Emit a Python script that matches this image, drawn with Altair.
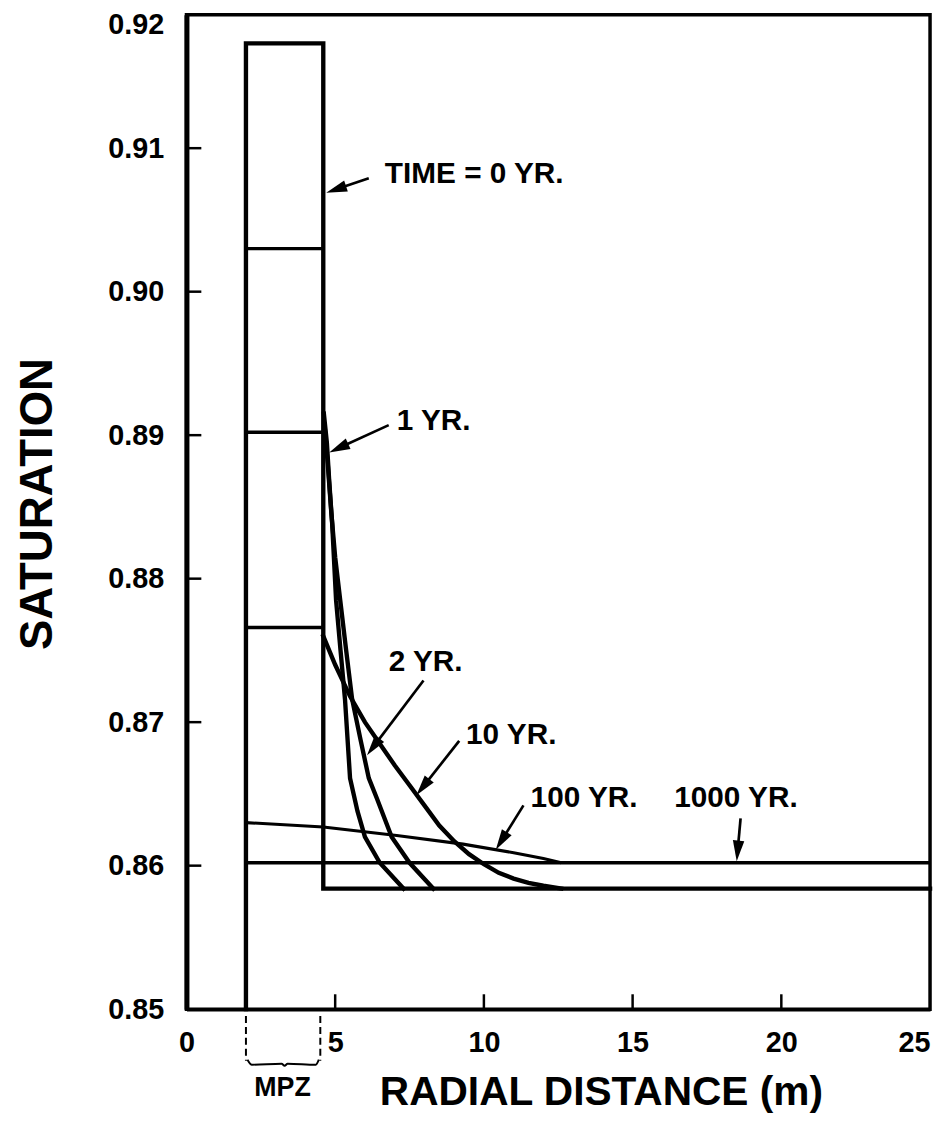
import math
import altair as alt
import pandas as pd

# ---------------- scale set-up ----------------
X_MIN, X_MAX = 0.0, 25.0
Y_MIN, Y_MAX = 0.85, 0.9193
W, H = 750, 1003
PX_X = W / (X_MAX - X_MIN)
PX_Y = H / (Y_MAX - Y_MIN)

FONT = "Liberation Sans"

# ---------------- data ----------------
# time = 0 profile (step)
t0_x = [2.0, 2.0, 4.6, 4.6, 25.0]
t0_s = [0.85, 0.9173, 0.9173, 0.8584, 0.8584]

# saturation inside the MPZ (2.0 - 4.6 m)
mpz_x = [2.0, 4.6]
mpz_levels = {"1 yr": 0.9030, "2 yr": 0.8902, "10 yr": 0.8766}

# profiles outside the MPZ
yr1_x = [4.62, 4.72, 4.80, 4.90, 5.03, 5.18, 5.33, 5.50, 5.75, 6.00, 6.50, 7.30]
yr1_s = [0.8915, 0.8895, 0.8868, 0.8838, 0.8785, 0.8750, 0.8716, 0.8661, 0.8638, 0.8620, 0.8602, 0.8584]

yr2_x = [4.65, 4.75, 4.87, 5.00, 5.17, 5.37, 5.57, 5.85, 6.13, 6.40, 6.90, 7.50, 8.30]
yr2_s = [0.8905, 0.8880, 0.8846, 0.8815, 0.8785, 0.8750, 0.8716, 0.8688, 0.8661, 0.8647, 0.8620, 0.8602, 0.8584]

yr10_x = [4.6, 5.0, 5.5, 6.0, 6.5, 7.0, 7.5, 8.0, 8.5, 9.0, 9.5, 10.0, 10.5, 11.0, 11.5, 12.0, 12.6]
yr10_s = [0.8760, 0.8740, 0.8718, 0.8700, 0.8685, 0.8670, 0.8656, 0.8642, 0.8628, 0.8617, 0.8608,
          0.8601, 0.8595, 0.8591, 0.8588, 0.8586, 0.8584]

yr100_x = [2.0, 4.6, 7.07, 9.3, 11.0, 12.0, 12.6]
yr100_s = [0.8630, 0.8627, 0.8621, 0.8615, 0.8609, 0.8605, 0.8602]

yr1000_x = [2.0, 25.0]
yr1000_s = [0.8602, 0.8602]

# axis ticks
x_tick_values = [0, 5, 10, 15, 20, 25]
x_inner_ticks = [5, 10, 15, 20]
y_tick_values = [0.85, 0.86, 0.87, 0.88, 0.89, 0.90, 0.91, 0.91861]
y_inner_ticks = [0.86, 0.87, 0.88, 0.89, 0.90, 0.91]

# annotations: label, text x, text y, arrow start x, y, arrow tip x, y
ann_label = ["TIME = 0 YR.", "1 YR.", "2 YR.", "10 YR.", "100 YR.", "1000 YR."]
ann_tx = [6.67, 7.07, 6.80, 9.40, 11.57, 16.40]
ann_ty = [0.9082, 0.8910, 0.8742, 0.8691, 0.8647, 0.8647]
ann_sx = [6.13, 6.80, 7.97, 9.17, 11.33, 18.63]
ann_sy = [0.9079, 0.8907, 0.8729, 0.8687, 0.8642, 0.8633]
ann_px = [4.70, 4.80, 6.07, 7.73, 10.40, 18.50]
ann_py = [0.9069, 0.8888, 0.8677, 0.8649, 0.8611, 0.8603]

# MPZ marker below the axis
mpz_dash_x = [2.0, 4.5]
mpz_dash_s = [0.84952, 0.84641]
brace_x = [2.05, 2.2, 3.2, 3.3, 3.4, 4.35, 4.45]
brace_s = [0.84648, 0.84613, 0.84620, 0.84605, 0.84620, 0.84613, 0.84648]
mpz_label_x, mpz_label_s = 3.23, 0.84447

# ---------------- tables ----------------
rows = []
def add(seg, xs, ss):
    for i, (a, b) in enumerate(zip(xs, ss)):
        rows.append({"seg": seg, "i": i, "x": a, "s": b})

add("t0", t0_x, t0_s)
add("1 yr out", yr1_x, yr1_s)
add("2 yr out", yr2_x, yr2_s)
add("10 yr out", yr10_x, yr10_s)
lines_df = pd.DataFrame(rows)

rows = []
for k, v in mpz_levels.items():
    add(k + " mpz", mpz_x, [v, v])
add("1000 yr", yr1000_x, yr1000_s)
flat_df = pd.DataFrame(rows)

rows100 = []
for i, (a, b) in enumerate(zip(yr100_x, yr100_s)):
    rows100.append({"seg": "100 yr", "i": i, "x": a, "s": b})
line100_df = pd.DataFrame(rows100)

HEAD_HALF = 10.5
ann_rows = []
head_rows = []
for lab, tx, ty, sx, sy, px, py in zip(ann_label, ann_tx, ann_ty, ann_sx, ann_sy, ann_px, ann_py):
    dx = (px - sx) * PX_X
    dy = -(py - sy) * PX_Y
    L = math.hypot(dx, dy)
    ux, uy = dx / L, dy / L
    cx = px - ux * HEAD_HALF / PX_X
    cy = py + uy * HEAD_HALF / PX_Y
    ang = math.degrees(math.atan2(ux, -uy)) % 360
    ann_rows.append({"label": lab, "tx": tx, "ty": ty, "sx": sx, "sy": sy, "ex": cx, "ey": cy})
    head_rows.append({"x": cx, "s": cy, "angle": ang})
ann_df = pd.DataFrame(ann_rows)
head_df = pd.DataFrame(head_rows)

xt_df = pd.DataFrame({"x": x_inner_ticks, "s0": [Y_MIN] * 4, "s1": [Y_MIN + 15 / PX_Y] * 4})
yt_df = pd.DataFrame({"s": y_inner_ticks, "x0": [0.0] * 6, "x1": [15 / PX_X] * 6})
dash_df = pd.DataFrame({"x": mpz_dash_x, "s0": [mpz_dash_s[0]] * 2, "s1": [mpz_dash_s[1]] * 2})
brace_df = pd.DataFrame({"x": brace_x, "s": brace_s, "i": list(range(len(brace_x)))})
mpz_df = pd.DataFrame({"x": [mpz_label_x], "s": [mpz_label_s], "t": ["MPZ"]})

# ---------------- scales / axes ----------------
xscale = alt.Scale(domain=[X_MIN, X_MAX], nice=False, zero=False)
yscale = alt.Scale(domain=[Y_MIN, Y_MAX], nice=False, zero=False)

xaxis = alt.Axis(
    values=x_tick_values, ticks=False, grid=False, domain=True, domainColor="black",
    domainWidth=3.5, labelFont=FONT, labelFontSize=29, labelFontWeight="bold",
    labelColor="black", labelPadding=34, labelBaseline="middle", labelFlush=False,
    labelAlign={"condition": {"test": "datum.value == 25", "value": "right"}, "value": "center"},
    title="RADIAL DISTANCE (m)", titleFont=FONT, titleFontSize=41, titleFontWeight="bold",
    titleColor="black", titleX=418, titleY=84, titleBaseline="middle", titleAlign="center",
)
yaxis = alt.Axis(
    values=y_tick_values, ticks=False, grid=False, domain=True, domainColor="black",
    domainWidth=5, labelFont=FONT, labelFontSize=29, labelFontWeight="bold",
    labelColor="black", labelPadding=23, labelBaseline="middle", labelFlush=False,
    labelExpr="datum.value > 0.915 ? '0.92' : format(datum.value, '.2f')",
    title="SATURATION", titleFont=FONT, titleFontSize=46, titleFontWeight="bold",
    titleColor="black", titleAngle=270, titleX=-150, titleY=493,
    titleBaseline="middle", titleAlign="center",
)

X = alt.X("x:Q", scale=xscale, axis=xaxis)
Y = alt.Y("s:Q", scale=yscale, axis=yaxis)

curves = alt.Chart(lines_df).mark_line(
    color="black", strokeWidth=4.4, strokeJoin="miter", strokeCap="square"
).encode(x=X, y=Y, detail="seg:N", order="i:Q")

flats = alt.Chart(flat_df).mark_line(color="black", strokeWidth=3.5).encode(
    x=alt.X("x:Q", scale=xscale), y=alt.Y("s:Q", scale=yscale), detail="seg:N", order="i:Q"
)

line100 = alt.Chart(line100_df).mark_line(color="black", strokeWidth=3.1).encode(
    x=alt.X("x:Q", scale=xscale), y=alt.Y("s:Q", scale=yscale), detail="seg:N", order="i:Q"
)

xticks = alt.Chart(xt_df).mark_rule(color="black", strokeWidth=2.5).encode(
    x=alt.X("x:Q", scale=xscale), y=alt.Y("s0:Q", scale=yscale), y2="s1:Q"
)
yticks = alt.Chart(yt_df).mark_rule(color="black", strokeWidth=2.5).encode(
    y=alt.Y("s:Q", scale=yscale), x=alt.X("x0:Q", scale=xscale), x2="x1:Q"
)

shafts = alt.Chart(ann_df).mark_rule(color="black", strokeWidth=2.7).encode(
    x=alt.X("sx:Q", scale=xscale), y=alt.Y("sy:Q", scale=yscale), x2="ex:Q", y2="ey:Q"
)
heads = alt.Chart(head_df).mark_point(
    shape="M0,-1L0.55,1L-0.55,1Z", filled=True, color="black", opacity=1, size=441, strokeWidth=0
).encode(x=alt.X("x:Q", scale=xscale), y=alt.Y("s:Q", scale=yscale), angle=alt.Angle("angle:Q", scale=None))

labels = alt.Chart(ann_df).mark_text(
    font=FONT, fontSize=30, fontWeight="bold", color="black", align="left", baseline="middle"
).encode(x=alt.X("tx:Q", scale=xscale), y=alt.Y("ty:Q", scale=yscale), text="label:N")

dashes = alt.Chart(dash_df).mark_rule(color="black", strokeWidth=2, strokeDash=[7, 4]).encode(
    x=alt.X("x:Q", scale=xscale), y=alt.Y("s0:Q", scale=yscale), y2="s1:Q"
)
brace = alt.Chart(brace_df).mark_line(color="black", strokeWidth=2, interpolate="monotone").encode(
    x=alt.X("x:Q", scale=xscale), y=alt.Y("s:Q", scale=yscale), order="i:Q"
)
mpz_text = alt.Chart(mpz_df).mark_text(
    font=FONT, fontSize=27, fontWeight="bold", color="black", align="center", baseline="middle"
).encode(x=alt.X("x:Q", scale=xscale), y=alt.Y("s:Q", scale=yscale), text="t:N")

chart = alt.layer(
    curves, flats, line100, xticks, yticks, shafts, heads, labels, dashes, brace, mpz_text
).properties(
    width=W, height=H,
    autosize=alt.AutoSizeParams(type="none"),
    padding={"left": 180, "top": 2, "right": 5, "bottom": 105},
    background="white",
).configure_view(
    stroke="black", strokeWidth=3.5
)

chart.save("out.html", embed_options={"renderer": "svg", "actions": False})
